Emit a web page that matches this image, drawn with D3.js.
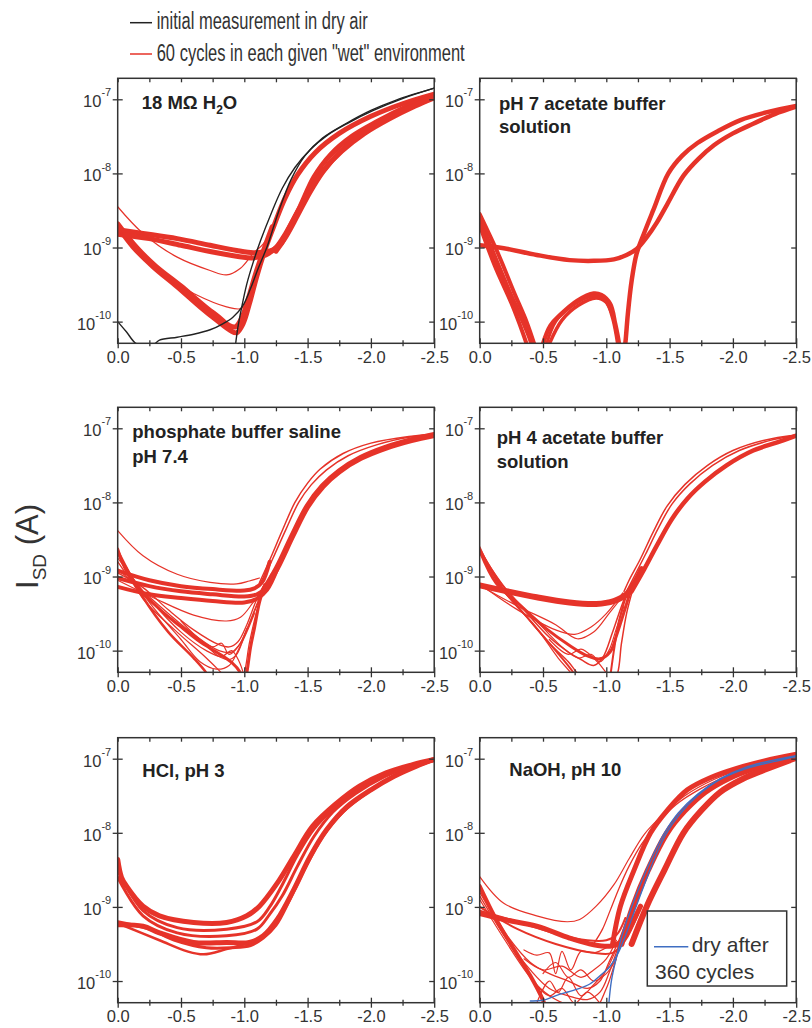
<!DOCTYPE html>
<html><head><meta charset="utf-8">
<script src="https://cdn.jsdelivr.net/npm/d3@7"></script>
<style>
body{margin:0;background:#fff}
svg{display:block}
text{font-family:"Liberation Sans",Arial,Helvetica,sans-serif}
</style>
</head><body>
<svg id="chart" width="812" height="1028"></svg>
<script>
// ---------- axis definitions ----------
const xDomain = [0, -2.5];
const yDomain = [5.1e-11, 1.92e-7];
const xTicks = [0, -0.5, -1.0, -1.5, -2.0, -2.5];
const xMinorTicks = [-0.25, -0.75, -1.25, -1.75, -2.25];
const yTicks = [1e-7, 1e-8, 1e-9, 1e-10];
const yTickExponents = ["-7", "-8", "-9", "-10"];

const legendLabels = ["initial measurement in dry air", "60 cycles in each given \"wet\" environment"];
const insetLabels = ["dry after", "360 cycles"];

// ---------- data: [V_G (V), log10(I_SD / A)] ----------
// 18 MOhm H2O
const h2oDry1 = [[0,-10.00],[-0.07,-10.14],[-0.15,-10.30],[-0.28,-10.31],[-0.33,-10.25],[-0.47,-10.21],[-0.60,-10.17],[-0.73,-10.11],[-0.83,-10.03],[-0.91,-9.94],[-0.99,-9.78],[-1.05,-9.55],[-1.11,-9.28],[-1.18,-8.99],[-1.27,-8.52],[-1.37,-8.08],[-1.48,-7.76],[-1.62,-7.52],[-1.80,-7.33],[-2.0,-7.15],[-2.2,-7.01],[-2.5,-6.85]];
const h2oDry2 = [[-0.93,-10.32],[-0.95,-10.07],[-0.98,-9.80],[-1.02,-9.49],[-1.07,-9.20],[-1.13,-8.90],[-1.21,-8.55],[-1.30,-8.20],[-1.40,-7.92],[-1.52,-7.68],[-1.66,-7.48],[-1.82,-7.32],[-2.02,-7.15],[-2.25,-6.99],[-2.5,-6.85]];
const h2oFlat = [[0,-8.76],[-0.2,-8.81],[-0.47,-8.88],[-0.73,-8.97],[-0.94,-9.04],[-1.07,-9.07],[-1.15,-9.06],[-1.23,-9.03],[-1.29,-8.95],[-1.36,-8.72],[-1.44,-8.45],[-1.55,-8.05],[-1.68,-7.75],[-1.85,-7.50],[-2.05,-7.30],[-2.28,-7.10],[-2.5,-6.95]];
const h2oFlat2 = [[0,-8.82],[-0.25,-8.88],[-0.5,-8.97],[-0.75,-9.06],[-0.95,-9.12],[-1.07,-9.14],[-1.17,-9.10],[-1.25,-9.0],[-1.33,-8.80],[-1.42,-8.52],[-1.52,-8.22],[-1.63,-7.95],[-1.77,-7.70],[-1.95,-7.46],[-2.15,-7.26],[-2.35,-7.09],[-2.5,-6.98]];
const h2oRise2 = [[-1.25,-9.05],[-1.33,-8.85],[-1.42,-8.57],[-1.52,-8.25],[-1.62,-7.98],[-1.75,-7.72],[-1.92,-7.48],[-2.12,-7.27],[-2.32,-7.10],[-2.5,-6.97]];
const h2oDip = [[0,-8.72],[-0.12,-8.99],[-0.28,-9.26],[-0.47,-9.53],[-0.65,-9.80],[-0.78,-9.98],[-0.89,-10.12],[-0.94,-10.15],[-0.99,-10.03],[-1.04,-9.76],[-1.10,-9.38],[-1.17,-9.0],[-1.24,-8.68],[-1.32,-8.34],[-1.42,-8.02],[-1.56,-7.72],[-1.75,-7.46],[-2.0,-7.23],[-2.25,-7.06],[-2.5,-6.93]];
const h2oDip2 = [[0,-8.68],[-0.15,-9.0],[-0.3,-9.25],[-0.5,-9.52],[-0.68,-9.78],[-0.8,-9.94],[-0.88,-10.05],[-0.93,-10.07],[-0.98,-9.95],[-1.03,-9.70],[-1.09,-9.35],[-1.16,-9.0],[-1.22,-8.72]];
const h2oThin1 = [[0,-8.45],[-0.2,-8.81],[-0.47,-9.13],[-0.73,-9.31],[-0.86,-9.37],[-0.97,-9.28],[-1.07,-9.08],[-1.15,-8.95],[-1.22,-8.75]];
const h2oThin2 = [[0,-8.74],[-0.33,-9.35],[-0.6,-9.62],[-0.86,-9.80],[-0.98,-9.82],[-1.04,-9.62],[-1.12,-9.25],[-1.18,-8.99]];

// pH 7 acetate buffer
const ac7Flat = [[0,-8.97],[-0.19,-9.01],[-0.45,-9.10],[-0.71,-9.17],[-0.90,-9.18],[-1.06,-9.16],[-1.16,-9.10],[-1.24,-9.02],[-1.32,-8.86],[-1.40,-8.66],[-1.48,-8.42],[-1.61,-8.03],[-1.73,-7.80],[-1.85,-7.62],[-2.0,-7.46],[-2.16,-7.33],[-2.33,-7.20],[-2.5,-7.10]];
const ac7Rev = [[0,-8.63],[-0.13,-9.17],[-0.24,-9.62],[-0.35,-10.03],[-0.41,-10.30],[-0.45,-10.7],[-0.50,-10.30],[-0.56,-10.05],[-0.63,-9.92],[-0.77,-9.72],[-0.90,-9.62],[-0.96,-9.64],[-1.03,-9.76],[-1.07,-10.03],[-1.10,-10.30],[-1.12,-10.7],[-1.15,-10.30],[-1.17,-9.90],[-1.20,-9.45],[-1.24,-9.08],[-1.30,-8.80],[-1.37,-8.50],[-1.49,-8.0],[-1.60,-7.76],[-1.72,-7.59],[-1.88,-7.43],[-2.06,-7.28],[-2.28,-7.17],[-2.5,-7.09]];
const ac7Drop2 = [[0,-8.55],[-0.15,-9.1],[-0.27,-9.6],[-0.37,-10.0],[-0.44,-10.35]];
const ac7Drop3 = [[0,-8.70],[-0.12,-9.25],[-0.25,-9.75],[-0.34,-10.15],[-0.38,-10.35]];
const ac7Arch2 = [[-0.55,-10.3],[-0.65,-9.98],[-0.78,-9.78],[-0.92,-9.68],[-1.0,-9.74],[-1.05,-9.95],[-1.09,-10.3]];
const ac7Arch3 = [[-0.52,-10.35],[-0.60,-10.0],[-0.72,-9.80],[-0.88,-9.66],[-0.98,-9.70],[-1.04,-9.88],[-1.09,-10.2]];

// phosphate buffer saline pH 7.4
const pbsFlatA = [[0,-8.92],[-0.25,-9.05],[-0.5,-9.13],[-0.75,-9.17],[-1.0,-9.19],[-1.08,-9.16],[-1.14,-9.08],[-1.20,-8.80]];
const pbsFlatB = [[0,-9.02],[-0.25,-9.13],[-0.5,-9.20],[-0.75,-9.24],[-1.0,-9.27],[-1.10,-9.24],[-1.16,-9.17],[-1.22,-8.98]];
const pbsFlatC = [[0,-9.14],[-0.25,-9.24],[-0.5,-9.29],[-0.75,-9.33],[-1.0,-9.35],[-1.10,-9.30],[-1.18,-9.18],[-1.26,-8.90]];
const pbsRiseL = [[-1.12,-9.08],[-1.20,-8.78],[-1.30,-8.38],[-1.40,-8.0],[-1.50,-7.74],[-1.60,-7.55],[-1.78,-7.34],[-2.0,-7.20],[-2.3,-7.11],[-2.5,-7.08]];
const pbsRiseL2 = [[-1.14,-9.08],[-1.23,-8.74],[-1.33,-8.36],[-1.43,-8.0],[-1.53,-7.76],[-1.65,-7.56],[-1.82,-7.37],[-2.05,-7.22],[-2.3,-7.12],[-2.5,-7.08]];
const pbsRiseR = [[-1.16,-9.17],[-1.26,-8.88],[-1.38,-8.45],[-1.50,-8.05],[-1.62,-7.78],[-1.75,-7.58],[-1.92,-7.40],[-2.12,-7.26],[-2.32,-7.16],[-2.5,-7.09]];
const pbsDip = [[0,-8.63],[-0.07,-8.93],[-0.2,-9.22],[-0.35,-9.47],[-0.5,-9.68],[-0.65,-9.88],[-0.78,-10.02],[-0.9,-10.16],[-0.97,-10.30],[-1.0,-10.45],[-1.02,-10.30],[-1.05,-9.95],[-1.08,-9.70],[-1.12,-9.35],[-1.16,-9.12]];
const pbsDip2 = [[0,-8.95],[-0.2,-9.15],[-0.4,-9.45],[-0.6,-9.72],[-0.8,-9.92],[-0.88,-9.95],[-0.95,-9.88],[-1.02,-9.65],[-1.1,-9.30],[-1.16,-9.10]];
const pbsDip3 = [[0,-8.70],[-0.2,-9.30],[-0.45,-9.72],[-0.7,-10.10],[-0.85,-10.35],[-0.95,-10.5],[-1.0,-10.3],[-1.04,-9.9],[-1.1,-9.45]];
const pbsDip4 = [[0,-8.65],[-0.2,-9.28],[-0.4,-9.75],[-0.6,-10.10],[-0.7,-10.30],[-0.75,-10.45]];
const pbsDip5 = [[0,-8.90],[-0.2,-9.20],[-0.4,-9.50],[-0.6,-9.78],[-0.8,-10.0],[-0.9,-10.02],[-0.97,-9.90],[-1.05,-9.60],[-1.12,-9.30]];
const pbsDip6 = [[0,-8.80],[-0.2,-9.25],[-0.45,-9.60],[-0.65,-9.85],[-0.8,-10.08],[-0.88,-10.12],[-0.94,-10.05],[-1.0,-9.80],[-1.07,-9.50],[-1.14,-9.20]];
const pbsMesh1 = [[0,-8.75],[-0.25,-9.30],[-0.5,-9.75],[-0.7,-10.0],[-0.82,-10.08],[-0.9,-10.0],[-0.96,-10.15],[-1.0,-10.35]];
const pbsMesh2 = [[0,-8.68],[-0.25,-9.35],[-0.5,-9.85],[-0.65,-10.15],[-0.78,-10.25],[-0.88,-10.2],[-0.95,-10.0],[-1.02,-9.75],[-1.08,-9.50]];
const pbsMesh3 = [[-0.5,-9.60],[-0.65,-9.85],[-0.75,-9.95],[-0.82,-9.90],[-0.88,-10.05],[-0.95,-9.95],[-1.02,-9.70]];
const pbsThinTop = [[0,-8.38],[-0.2,-8.72],[-0.47,-8.97],[-0.73,-9.08],[-0.94,-9.10],[-1.04,-9.06],[-1.12,-9.02]];
const pbsThinMid = [[0,-9.05],[-0.3,-9.30],[-0.6,-9.52],[-0.86,-9.60],[-0.97,-9.55],[-1.07,-9.35],[-1.15,-9.17]];

// pH 4 acetate buffer
const ac4Flat = [[0,-9.12],[-0.19,-9.19],[-0.45,-9.28],[-0.71,-9.35],[-0.92,-9.37],[-1.06,-9.33],[-1.16,-9.24],[-1.22,-9.10],[-1.28,-8.90]];
const ac4RiseL = [[-1.14,-9.20],[-1.18,-9.05],[-1.27,-8.76],[-1.37,-8.40],[-1.48,-8.05],[-1.62,-7.76],[-1.80,-7.50],[-2.0,-7.30],[-2.25,-7.16],[-2.5,-7.09]];
const ac4RiseL2 = [[-1.16,-9.20],[-1.22,-9.0],[-1.31,-8.70],[-1.41,-8.35],[-1.52,-8.02],[-1.66,-7.75],[-1.84,-7.50],[-2.05,-7.30],[-2.28,-7.17],[-2.5,-7.09]];
const ac4RiseR = [[-1.20,-9.20],[-1.30,-8.90],[-1.40,-8.58],[-1.52,-8.22],[-1.64,-7.95],[-1.78,-7.72],[-1.95,-7.50],[-2.16,-7.30],[-2.35,-7.19],[-2.5,-7.10]];
const ac4Dip = [[0,-8.65],[-0.13,-9.09],[-0.32,-9.39],[-0.53,-9.71],[-0.71,-9.93],[-0.85,-10.07],[-0.95,-10.11],[-1.03,-10.02],[-1.08,-9.80],[-1.14,-9.48],[-1.19,-9.20]];
const ac4Dip2 = [[0,-8.60],[-0.15,-9.10],[-0.35,-9.50],[-0.55,-9.90],[-0.70,-10.15],[-0.80,-10.35],[-1.0,-10.5],[-1.08,-10.35],[-1.12,-9.90],[-1.16,-9.50],[-1.21,-9.17]];
const ac4Dip3 = [[0,-8.62],[-0.15,-9.05],[-0.35,-9.45],[-0.55,-9.82],[-0.7,-10.02],[-0.8,-10.12],[-0.9,-10.20],[-0.97,-10.10],[-1.05,-9.75],[-1.12,-9.40],[-1.18,-9.15]];
const ac4Dip4 = [[0,-8.66],[-0.2,-9.20],[-0.4,-9.60],[-0.6,-10.0],[-0.72,-10.25],[-0.8,-10.45]];
const ac4Mesh1 = [[0,-8.64],[-0.2,-9.15],[-0.45,-9.60],[-0.65,-9.95],[-0.78,-10.10],[-0.88,-10.05],[-0.95,-10.15],[-1.02,-10.0],[-1.08,-9.70],[-1.14,-9.40]];
const ac4Mesh2 = [[0,-8.67],[-0.2,-9.22],[-0.45,-9.70],[-0.62,-10.10],[-0.72,-10.30],[-0.78,-10.45]];
const ac4Mesh3 = [[-0.55,-9.85],[-0.7,-10.05],[-0.8,-9.98],[-0.9,-10.10],[-1.0,-10.30],[-1.05,-10.45]];
const ac4Steep = [[-1.02,-10.5],[-1.06,-10.0],[-1.10,-9.60],[-1.15,-9.30],[-1.20,-9.10]];
const ac4Thin = [[0,-9.12],[-0.3,-9.40],[-0.6,-9.65],[-0.77,-9.84],[-0.90,-9.75],[-1.03,-9.48],[-1.16,-9.20]];
const ac4Thin2 = [[0,-9.10],[-0.3,-9.45],[-0.6,-9.72],[-0.75,-9.78],[-0.88,-9.68],[-1.0,-9.50],[-1.13,-9.22]];

// HCl pH 3
const hclUpper = [[0,-8.36],[-0.03,-8.60],[-0.07,-8.72],[-0.2,-8.99],[-0.33,-9.12],[-0.6,-9.21],[-0.86,-9.21],[-1.02,-9.12],[-1.12,-8.99],[-1.26,-8.68],[-1.39,-8.32],[-1.54,-7.91],[-1.73,-7.60],[-1.91,-7.37],[-2.12,-7.19],[-2.33,-7.08],[-2.5,-7.01]];
const hclLower = [[0,-9.24],[-0.2,-9.26],[-0.33,-9.35],[-0.6,-9.48],[-0.86,-9.48],[-1.04,-9.48],[-1.15,-9.39],[-1.26,-9.17],[-1.39,-8.77],[-1.52,-8.32],[-1.65,-7.96],[-1.81,-7.65],[-2.0,-7.42],[-2.18,-7.24],[-2.36,-7.10],[-2.5,-7.01]];
const hclLow2 = [[0,-9.20],[-0.25,-9.30],[-0.45,-9.45],[-0.7,-9.55],[-0.9,-9.55],[-1.05,-9.52],[-1.15,-9.42],[-1.25,-9.25],[-1.36,-8.90],[-1.48,-8.48],[-1.62,-8.05],[-1.78,-7.72],[-1.97,-7.46],[-2.15,-7.27],[-2.35,-7.11],[-2.5,-7.02]];
const hclDip = [[0,-9.22],[-0.33,-9.45],[-0.55,-9.60],[-0.68,-9.64],[-0.86,-9.57],[-1.05,-9.48]];
const hclMid = [[0,-8.60],[-0.2,-9.12],[-0.47,-9.35],[-0.86,-9.39],[-1.1,-9.30],[-1.2,-9.10],[-1.3,-8.85],[-1.42,-8.45],[-1.55,-8.05],[-1.7,-7.72],[-1.88,-7.47],[-2.1,-7.25],[-2.3,-7.11],[-2.5,-7.01]];
const hclMid2 = [[0,-8.50],[-0.2,-9.05],[-0.47,-9.28],[-0.86,-9.30],[-1.1,-9.20],[-1.2,-9.0],[-1.3,-8.70],[-1.42,-8.30],[-1.55,-7.95],[-1.72,-7.65],[-1.9,-7.42],[-2.1,-7.23],[-2.3,-7.10],[-2.5,-7.01]];

// NaOH pH 10
const naohTop = [[0,-8.59],[-0.19,-8.95],[-0.45,-9.12],[-0.69,-9.20],[-0.79,-9.17],[-0.92,-8.99],[-1.06,-8.70],[-1.18,-8.35],[-1.30,-8.02],[-1.45,-7.75],[-1.62,-7.50],[-1.85,-7.28],[-2.1,-7.12],[-2.5,-6.93]];
const naohFlat = [[0,-9.09],[-0.19,-9.17],[-0.45,-9.26],[-0.71,-9.42],[-0.90,-9.51],[-1.03,-9.53],[-1.11,-9.48],[-1.18,-9.30],[-1.27,-8.99]];
const naohFlat2 = [[0,-9.0],[-0.3,-9.30],[-0.6,-9.50],[-0.9,-9.62],[-1.05,-9.62],[-1.15,-9.45],[-1.25,-9.10]];
const naohFlat3 = [[0,-9.05],[-0.3,-9.20],[-0.6,-9.36],[-0.85,-9.45],[-1.0,-9.45],[-1.08,-9.38],[-1.15,-9.15]];
const naohBandL = [[-1.05,-9.5],[-1.11,-9.0],[-1.22,-8.5],[-1.35,-8.0],[-1.48,-7.70],[-1.64,-7.42],[-1.83,-7.25],[-2.03,-7.13],[-2.25,-7.03],[-2.5,-6.94]];
const naohBandM = [[-1.12,-9.5],[-1.21,-9.0],[-1.33,-8.5],[-1.48,-8.0],[-1.62,-7.70],[-1.78,-7.45],[-1.97,-7.26],[-2.18,-7.12],[-2.5,-6.97]];
const naohBandR = [[-1.20,-9.5],[-1.32,-8.99],[-1.46,-8.5],[-1.61,-8.0],[-1.75,-7.70],[-1.90,-7.45],[-2.08,-7.27],[-2.25,-7.15],[-2.5,-6.99]];
const naohRiseL = [[-0.90,-9.50],[-0.97,-9.30],[-1.03,-9.05],[-1.10,-8.75],[-1.18,-8.45],[-1.28,-8.15],[-1.40,-7.88],[-1.55,-7.62],[-1.75,-7.40],[-2.0,-7.20],[-2.25,-7.05],[-2.5,-6.93]];
const naohDesc = [[0,-8.72],[-0.13,-9.17],[-0.27,-9.57],[-0.40,-9.93],[-0.50,-10.26],[-0.55,-10.5]];
const naohDip1 = [[0,-8.80],[-0.2,-9.35],[-0.4,-9.75],[-0.55,-9.90],[-0.7,-10.0],[-0.85,-10.1],[-0.95,-10.0],[-1.02,-9.75],[-1.1,-9.45],[-1.18,-9.10]];
const naohDip2 = [[0,-8.75],[-0.25,-9.50],[-0.45,-10.05],[-0.6,-10.25],[-0.75,-10.35],[-0.9,-10.4],[-1.0,-10.1],[-1.06,-9.80],[-1.12,-9.45],[-1.2,-9.05]];
const naohDip3 = [[0,-8.85],[-0.2,-9.40],[-0.4,-9.85],[-0.55,-10.10],[-0.7,-10.20],[-0.85,-10.25],[-0.95,-10.15],[-1.02,-9.90],[-1.1,-9.50]];
const naohDip4 = [[-0.35,-9.70],[-0.5,-9.85],[-0.65,-9.80],[-0.8,-9.95],[-0.9,-9.85],[-1.0,-9.70],[-1.08,-9.45]];
const naohMesh1 = [[-0.45,-10.30],[-0.55,-10.0],[-0.62,-10.15],[-0.7,-9.95],[-0.8,-10.2],[-0.9,-10.05],[-1.0,-9.85],[-1.07,-9.60]];
const naohMesh2 = [[0,-8.90],[-0.2,-9.45],[-0.4,-9.95],[-0.55,-10.2],[-0.65,-10.1],[-0.75,-10.3],[-0.85,-10.15],[-0.95,-10.3],[-1.0,-10.45]];
const naohMesh3 = [[-0.5,-9.90],[-0.6,-9.75],[-0.7,-9.95],[-0.8,-9.85],[-0.9,-10.0],[-1.0,-9.90],[-1.08,-9.70]];
const naohZig = [[-0.35,-9.58],[-0.45,-9.65],[-0.55,-9.62],[-0.60,-9.90],[-0.65,-9.60],[-0.72,-9.85],[-0.80,-9.60],[-0.90,-9.62],[-1.0,-9.55]];
const naohDryAfter1 = [[-0.40,-10.27],[-0.50,-10.26],[-0.63,-10.18],[-0.77,-10.11],[-0.87,-10.04],[-0.95,-9.93],[-1.03,-9.80],[-1.10,-9.60],[-1.16,-9.35],[-1.23,-9.02],[-1.30,-8.70],[-1.38,-8.35],[-1.47,-8.02],[-1.58,-7.75],[-1.72,-7.50],[-1.90,-7.28],[-2.11,-7.13],[-2.32,-7.04],[-2.5,-6.97]];
const naohDryAfter2 = [[-1.02,-10.31],[-1.04,-10.0],[-1.08,-9.68],[-1.13,-9.35],[-1.20,-9.0],[-1.28,-8.65],[-1.37,-8.30],[-1.46,-8.0],[-1.57,-7.73],[-1.72,-7.48],[-1.90,-7.27],[-2.11,-7.11],[-2.32,-7.02],[-2.5,-6.96]];

// ---------- styles (kept apart from data) ----------
const RED = "#e63329", BLACK = "#222", BLUE = "#3f6ec2", AXIS = "#333";
const colX = [117.7, 479.7], rowY = [78.3, 407.3, 737.7];
const panelW = 316.5, panelH = 265;

const panels = [
  { col:0, row:0, tx:24, ty:[31],
    title:[[{t:"18 MΩ H"},{t:"2",sub:true},{t:"O"}]],
    curves:[
      {d:h2oDip,c:RED,w:5},{d:h2oDip2,c:RED,w:5},{d:h2oFlat,c:RED,w:5},{d:h2oFlat2,c:RED,w:5},{d:h2oRise2,c:RED,w:5},
      {d:h2oThin1,c:RED,w:1.2},{d:h2oThin2,c:RED,w:1.2},
      {d:h2oDry1,c:BLACK,w:1.4},{d:h2oDry2,c:BLACK,w:1.4}
    ]},
  { col:1, row:0, tx:19.3, ty:[31.7,55],
    title:[[{t:"pH 7 acetate buffer"}],[{t:"solution"}]],
    curves:[
      {d:ac7Flat,c:RED,w:4.5},{d:ac7Rev,c:RED,w:4.5},{d:ac7Drop2,c:RED,w:4},{d:ac7Drop3,c:RED,w:4},
      {d:ac7Arch2,c:RED,w:3.5},{d:ac7Arch3,c:RED,w:3}
    ]},
  { col:0, row:1, tx:14.6, ty:[31,55.4],
    title:[[{t:"phosphate buffer saline"}],[{t:"pH 7.4"}]],
    curves:[
      {d:pbsFlatA,c:RED,w:4},{d:pbsFlatB,c:RED,w:4},{d:pbsFlatC,c:RED,w:4},
      {d:pbsRiseL,c:RED,w:1.5},{d:pbsRiseL2,c:RED,w:1.5},{d:pbsRiseR,c:RED,w:6},
      {d:pbsDip,c:RED,w:3},{d:pbsDip2,c:RED,w:1.3},{d:pbsDip3,c:RED,w:1.3},{d:pbsDip4,c:RED,w:2.5},
      {d:pbsDip5,c:RED,w:1.3},{d:pbsDip6,c:RED,w:1.3},
      {d:pbsMesh1,c:RED,w:1.2},{d:pbsMesh2,c:RED,w:1.2},{d:pbsMesh3,c:RED,w:1.2},
      {d:pbsThinTop,c:RED,w:1.2},{d:pbsThinMid,c:RED,w:1.2}
    ]},
  { col:1, row:1, tx:17, ty:[36.7,61],
    title:[[{t:"pH 4 acetate buffer"}],[{t:"solution"}]],
    curves:[
      {d:ac4Flat,c:RED,w:6},{d:ac4RiseL,c:RED,w:1.5},{d:ac4RiseL2,c:RED,w:1.5},{d:ac4RiseR,c:RED,w:4.5},
      {d:ac4Dip,c:RED,w:3},{d:ac4Dip2,c:RED,w:1.5},{d:ac4Dip3,c:RED,w:1.5},{d:ac4Dip4,c:RED,w:2},{d:ac4Steep,c:RED,w:2},
      {d:ac4Mesh1,c:RED,w:1.2},{d:ac4Mesh2,c:RED,w:1.2},{d:ac4Mesh3,c:RED,w:1.2},
      {d:ac4Thin,c:RED,w:1.2},{d:ac4Thin2,c:RED,w:1.2}
    ]},
  { col:0, row:2, tx:24.6, ty:[39.6],
    title:[[{t:"HCl, pH 3"}]],
    curves:[
      {d:hclUpper,c:RED,w:5},{d:hclMid2,c:RED,w:3},{d:hclMid,c:RED,w:3},
      {d:hclLower,c:RED,w:5},{d:hclLow2,c:RED,w:3},{d:hclDip,c:RED,w:2.5}
    ]},
  { col:1, row:2, tx:29.6, ty:[38.3],
    title:[[{t:"NaOH, pH 10"}]],
    curves:[
      {d:naohTop,c:RED,w:1.2},{d:naohFlat,c:RED,w:5},{d:naohFlat2,c:RED,w:2},{d:naohFlat3,c:RED,w:2},
      {d:naohBandL,c:RED,w:5},{d:naohBandM,c:RED,w:6},{d:naohBandR,c:RED,w:6},{d:naohRiseL,c:RED,w:1.3},
      {d:naohDesc,c:RED,w:4},{d:naohDip1,c:RED,w:1.3},{d:naohDip2,c:RED,w:1.3},{d:naohDip3,c:RED,w:1.3},
      {d:naohDip4,c:RED,w:1.2},{d:naohZig,c:RED,w:1.2},
      {d:naohMesh1,c:RED,w:1.2},{d:naohMesh2,c:RED,w:1.2},{d:naohMesh3,c:RED,w:1.2},
      {d:naohDryAfter1,c:BLUE,w:1.4},{d:naohDryAfter2,c:BLUE,w:1.4}
    ],
    inset:true }
];

const svg = d3.select("#chart");
const defs = svg.append("defs");

panels.forEach((p, i) => {
  const x0 = colX[p.col], y0 = rowY[p.row];
  const x = d3.scaleLinear().domain(xDomain).range([0, panelW]);
  const y = d3.scaleLog().domain(yDomain).range([panelH, 0]);
  const g = svg.append("g").attr("transform", `translate(${x0},${y0})`);

  defs.append("clipPath").attr("id", "clip" + i)
    .append("rect").attr("width", panelW).attr("height", panelH);

  const line = d3.line()
    .x(d => x(d[0]))
    .y(d => y(Math.pow(10, d[1])))
    .curve(d3.curveCatmullRom.alpha(0.5));

  const cg = g.append("g").attr("clip-path", `url(#clip${i})`);
  p.curves.forEach(c => {
    cg.append("path").attr("d", line(c.d))
      .attr("fill", "none").attr("stroke", c.c).attr("stroke-width", c.w)
      .attr("stroke-linejoin", "round").attr("stroke-linecap", "round");
  });

  // bottom axis (labels + crossing ticks)
  const bx = g.append("g").attr("transform", `translate(0,${panelH})`)
    .call(d3.axisBottom(x).tickValues(xTicks).tickSizeInner(5).tickSizeOuter(0)
      .tickFormat(d => d.toFixed(1)));
  bx.select(".domain").remove();
  bx.selectAll(".tick line").attr("y1", -5).attr("stroke", AXIS).attr("stroke-width", 1.3);
  bx.selectAll(".tick text").attr("y", 7.5).attr("dy", "0.71em")
    .attr("font-size", 16.5).attr("fill", AXIS).attr("font-family", null);
  const bm = g.append("g").attr("transform", `translate(0,${panelH})`)
    .call(d3.axisBottom(x).tickValues(xMinorTicks).tickSizeInner(3).tickSizeOuter(0).tickFormat(""));
  bm.select(".domain").remove();
  bm.selectAll(".tick line").attr("y1", -3).attr("stroke", AXIS).attr("stroke-width", 1.3);

  // top axis (inward ticks)
  const tx = g.append("g")
    .call(d3.axisTop(x).tickValues(xTicks.concat(xMinorTicks)).tickSizeInner(-4).tickSizeOuter(0).tickFormat(""));
  tx.select(".domain").remove();
  tx.selectAll(".tick line").attr("stroke", AXIS).attr("stroke-width", 1.3);

  // left axis
  const ly = g.append("g")
    .call(d3.axisLeft(y).tickValues(yTicks).tickSizeInner(5).tickSizeOuter(0).tickFormat(""));
  ly.select(".domain").remove();
  ly.selectAll(".tick line").attr("x1", 5).attr("stroke", AXIS).attr("stroke-width", 1.3);
  ly.selectAll(".tick").each(function(d, k) {
    const t = d3.select(this).select("text")
      .attr("x", -6.5).attr("y", 0).attr("dy", null)
      .attr("text-anchor", "end").attr("fill", AXIS).attr("font-family", null);
    t.append("tspan").attr("dy", 7.4).attr("font-size", 16.5).text("10");
    t.append("tspan").attr("dy", -10.7).attr("font-size", 11).text(yTickExponents[k]);
  });

  // right axis (inward ticks)
  const ry = g.append("g").attr("transform", `translate(${panelW},0)`)
    .call(d3.axisRight(y).tickValues(yTicks).tickSizeInner(-5).tickSizeOuter(0).tickFormat(""));
  ry.select(".domain").remove();
  ry.selectAll(".tick line").attr("stroke", AXIS).attr("stroke-width", 1.3);

  // frame
  g.append("rect").attr("width", panelW).attr("height", panelH)
    .attr("fill", "none").attr("stroke", AXIS).attr("stroke-width", 1.5);

  // title
  p.title.forEach((ln, li) => {
    const t = g.append("text").attr("x", p.tx).attr("y", p.ty[li])
      .attr("font-size", 18.5).attr("font-weight", "bold").attr("fill", "#222");
    ln.forEach((part, pi) => {
      if (part.sub) {
        t.append("tspan").attr("font-size", 12).attr("dy", 5).text(part.t);
      } else {
        t.append("tspan").attr("dy", pi > 0 && ln[pi - 1].sub ? -5 : 0).text(part.t);
      }
    });
  });

  // inset legend for the NaOH panel
  if (p.inset) {
    const lx = 647.3 - x0, ly0 = 911 - y0;
    const lg = g.append("g").attr("transform", `translate(${lx},${ly0})`);
    lg.append("rect").attr("width", 139.4).attr("height", 75)
      .attr("fill", "#fff").attr("stroke", AXIS).attr("stroke-width", 1.5);
    lg.append("line").attr("x1", 6.7).attr("x2", 41).attr("y1", 35.7).attr("y2", 35.7)
      .attr("stroke", BLUE).attr("stroke-width", 1.6);
    lg.append("text").attr("x", 44.4).attr("y", 40.7).attr("font-size", 21).attr("fill", AXIS).text(insetLabels[0]);
    lg.append("text").attr("x", 7.7).attr("y", 68.3).attr("font-size", 21).attr("fill", AXIS).text(insetLabels[1]);
  }
});

// top legend
const legendColors = [BLACK, RED];
const legendY = [22.7, 54];
const legendLens = [211, 308];
legendLabels.forEach((lab, i) => {
  svg.append("line").attr("x1", 130).attr("x2", 152).attr("y1", legendY[i]).attr("y2", legendY[i])
    .attr("stroke", legendColors[i]).attr("stroke-width", 1.5);
  svg.append("text").attr("x", 156.7).attr("y", legendY[i] + 6.6)
    .attr("font-size", 23).attr("fill", AXIS)
    .attr("textLength", legendLens[i]).attr("lengthAdjust", "spacingAndGlyphs")
    .text(lab);
});

// y-axis title
const yt = svg.append("text").attr("transform", "translate(38,546.5) rotate(-90)")
  .attr("text-anchor", "middle").attr("font-size", 31).attr("fill", AXIS);
yt.append("tspan").text("I");
yt.append("tspan").attr("font-size", 19).attr("dy", 8).text("SD");
yt.append("tspan").attr("dy", -8).text(" (A)");
</script>
</body></html>
